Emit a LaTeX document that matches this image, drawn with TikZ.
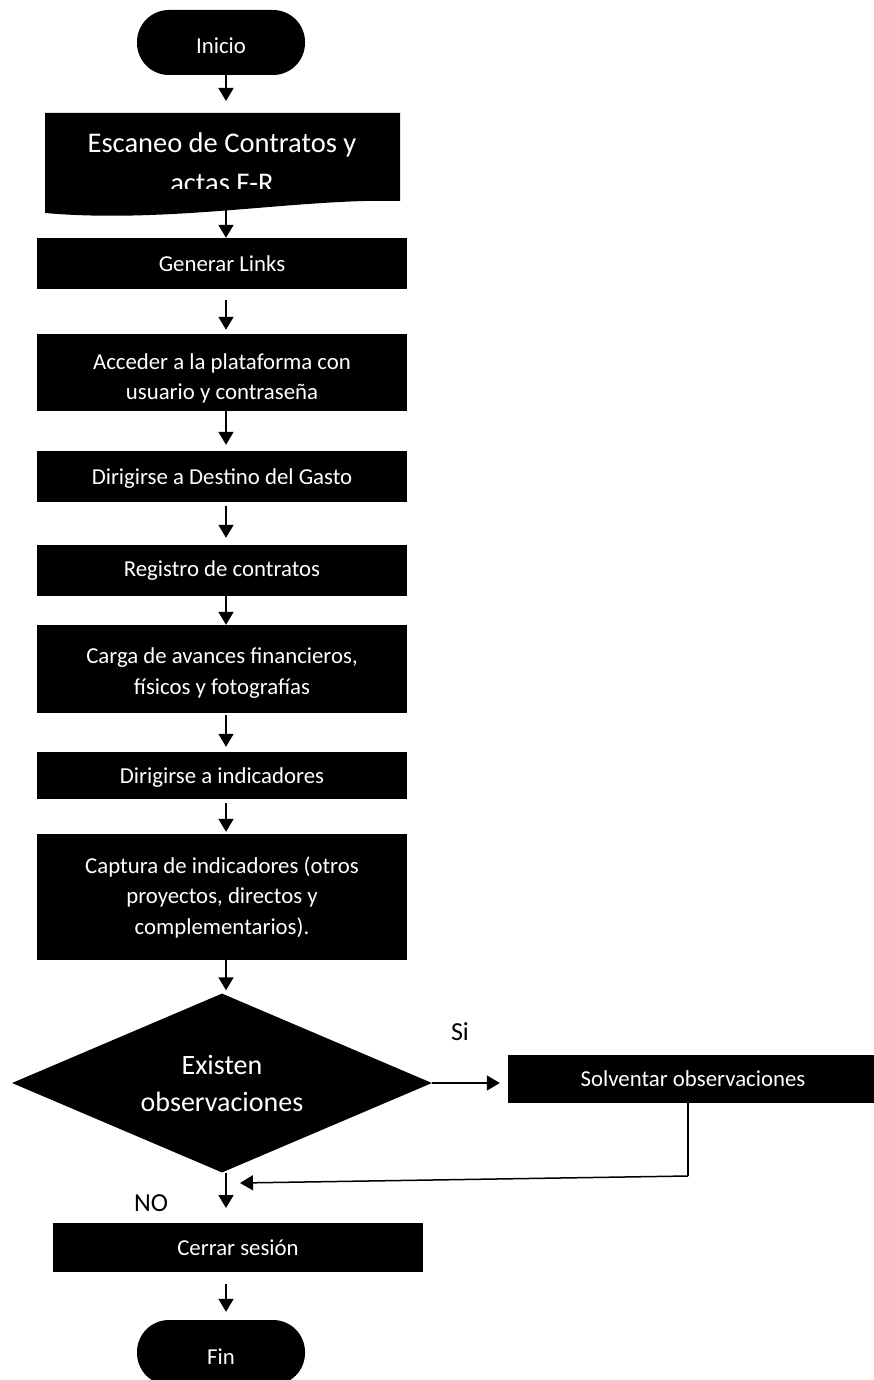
\documentclass[tikz,border=0pt]{standalone}
\usepackage{fontspec}
\setmainfont{Carlito}
\usetikzlibrary{shapes.geometric,arrows.meta}
\begin{document}
\begin{tikzpicture}[x=1pt,y=-1pt,
  box/.style={rectangle,fill=black,text=white,inner sep=0pt,minimum width=370pt,align=center,font=\fontsize{22.8}{30.5}\selectfont},
  term/.style={rectangle,rounded corners=32pt,fill=black,text=white,minimum width=168pt,minimum height=65pt,inner sep=0pt,text height=23pt,text depth=0pt,font=\fontsize{22.8}{24}\selectfont},
  arr/.style={line width=1.8pt,-{Triangle[width=15pt,length=13pt]}},
  lbl/.style={font=\fontsize{26}{30}\selectfont,text=black,inner sep=0pt}]
\useasboundingbox (0,0) rectangle (874,1380);
\fill[white] (0,0) rectangle (874,1380);
\coordinate (axis) at (226,0);
% start
\node[term] (inicio) at (221,42.5) {Inicio};
% document shape
\fill[black] (45,113) -- (400,113) -- (400,201) .. controls (300,198) and (170,224) .. (45,213) -- cycle;
\begin{scope}
\clip (45,113) rectangle (400,189);
\node[text=white,align=center,inner sep=0pt,font=\fontsize{28.5}{40}\selectfont] (esc) at (222,163) {Escaneo de Contratos y\\actas F-R};
\end{scope}
\coordinate (esctop) at (226,113);
\coordinate (escbot) at (226,210);
\node[box,minimum height=51pt] (gen) at (222,263.5) {Generar Links};
\node[box,minimum height=77pt] (acc) at (222,372.5) {\rule{0pt}{28pt}Acceder a la plataforma con\\usuario y contraseña};
\node[box,minimum height=51pt] (dir1) at (222,476.5) {\rule{0pt}{20pt}Dirigirse a Destino del Gasto};
\node[box,minimum height=51pt] (reg) at (222,570.5) {Registro de contratos};
\node[box,minimum height=88pt] (carga) at (222,669) {\rule{0pt}{24pt}Carga de avances financieros,\\físicos y fotografías};
\node[box,minimum height=47pt] (dir2) at (222,775.5) {\rule{0pt}{20pt}Dirigirse a indicadores};
\node[box,minimum height=126pt] (cap) at (222,897) {Captura de indicadores (otros\\proyectos, directos y\\complementarios).};
\node[diamond,aspect=2.35,fill=black,text=white,minimum width=420pt,minimum height=179pt,inner sep=0pt,align=center,font=\fontsize{28}{37}\selectfont] (dec) at (222,1083) {Existen\\observaciones};
\node[box,minimum height=48pt] (solv) at (693,1079) {Solventar observaciones};
\node[box,minimum height=49pt] (cerrar) at (238,1247.5) {Cerrar sesión};
\node[term] (fin) at (221,1352.5) {Fin};
\node[lbl] (si) at (460,1032) {Si};
\node[lbl] (no) at (151,1203) {NO};
% connectors
\draw[arr,shorten >=12pt] (inicio.south -| axis) -- (esctop);
\draw[arr] (escbot) -- (gen.north -| axis);
\draw[arr,shorten <=11pt,shorten >=4pt] (gen.south -| axis) -- (acc.north -| axis);
\draw[arr,shorten >=6pt] (acc.south -| axis) -- (dir1.north -| axis);
\draw[arr,shorten <=4pt,shorten >=7pt] (dir1.south -| axis) -- (reg.north -| axis);
\draw[arr] (reg.south -| axis) -- (carga.north -| axis);
\draw[arr,shorten <=2pt,shorten >=5pt] (carga.south -| axis) -- (dir2.north -| axis);
\draw[arr,shorten <=4pt,shorten >=2pt] (dir2.south -| axis) -- (cap.north -| axis);
\draw[arr,shorten >=3pt] (cap.south -| axis) -- (dec.north -| axis);
\coordinate (nobot) at (226,1208);
\draw[arr] (dec.south -| axis) -- (nobot);
\draw[arr,shorten <=12pt,shorten >=8pt] (cerrar.south -| axis) -- (fin.north -| axis);
\draw[arr,shorten >=8pt] (dec.east) -- (dec.east -| solv.west);
\coordinate (ret) at (688,1176);
\coordinate (rettip) at (240,1183);
\draw[line width=1.5pt] (solv.south -| ret) -- (ret);
\draw[arr,line width=1.5pt] (ret) -- (rettip);
\end{tikzpicture}
\end{document}
